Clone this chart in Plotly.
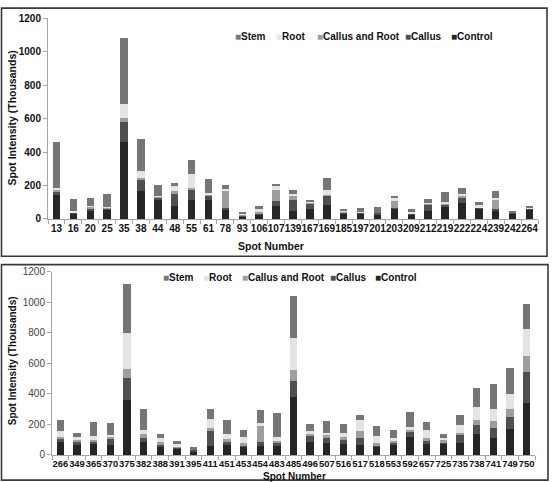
import plotly.graph_objects as go

# ---------------- data ----------------
top_spots = ["13", "16", "20", "25", "35", "38", "44", "48", "55", "61", "78", "93", "106", "107",
             "139", "167", "169", "185", "197", "201", "203", "209", "212", "219", "222", "224",
             "239", "242", "264"]
control_top = [145, 28, 50, 52, 458, 170, 116, 76, 116, 112, 57, 14, 24, 80, 45, 62, 86, 28, 32, 26,
               58, 22, 45, 72, 95, 58, 45, 30, 55]
callus_top = [16, 6, 12, 8, 120, 60, 10, 76, 55, 24, 8, 6, 9, 28, 68, 28, 52, 8, 3, 8,
              6, 6, 40, 12, 32, 6, 14, 4, 6]
callus_root_top = [12, 4, 8, 4, 25, 12, 6, 16, 14, 8, 100, 5, 8, 63, 22, 6, 8, 6, 3, 2,
                   46, 4, 6, 8, 10, 4, 54, 2, 2]
root_top = [15, 8, 10, 6, 82, 42, 8, 30, 84, 12, 12, 5, 18, 24, 15, 8, 30, 6, 2, 2,
            18, 12, 6, 12, 10, 14, 10, 2, 2]
stem_top = [275, 76, 46, 78, 395, 192, 62, 16, 83, 82, 28, 8, 21, 12, 25, 12, 70, 9, 25, 32,
            8, 16, 25, 60, 40, 20, 45, 12, 10]

bot_spots = ["266", "349", "365", "370", "375", "382", "388", "391", "395", "411", "451", "453",
             "454", "483", "485", "496", "507", "516", "517", "518", "553", "592", "657", "725",
             "735", "738", "741", "749", "750"]
control_bot = [88, 68, 72, 68, 357, 88, 50, 45, 28, 62, 68, 60, 58, 62, 382, 82, 80, 75, 68, 50,
               68, 120, 72, 72, 78, 140, 108, 168, 342]
callus_bot = [20, 24, 18, 34, 148, 24, 25, 10, 8, 92, 18, 8, 30, 14, 102, 50, 32, 28, 44, 18,
              14, 28, 20, 16, 50, 54, 70, 80, 204]
callus_root_bot = [10, 8, 10, 16, 56, 28, 8, 5, 2, 22, 20, 8, 104, 18, 69, 10, 18, 12, 48, 12,
                   10, 16, 18, 8, 18, 36, 44, 54, 101]
root_bot = [40, 20, 26, 14, 236, 24, 25, 12, 2, 62, 34, 42, 16, 22, 212, 12, 16, 28, 72, 46,
            22, 22, 52, 18, 48, 82, 80, 96, 180]
stem_bot = [68, 22, 88, 76, 320, 138, 32, 22, 10, 62, 90, 43, 86, 156, 274, 50, 74, 60, 32, 66,
            48, 96, 54, 26, 68, 125, 160, 168, 163]

series_names = ["Control", "Callus", "Callus and Root", "Root", "Stem"]
legend_order = ["Stem", "Root", "Callus and Root", "Callus", "Control"]
y_title = "Spot Intensity (Thousands)"
x_title = "Spot Number"

# ---------------- style ----------------
colors = {"Control": "#262626", "Callus": "#4f4f4f", "Callus and Root": "#9e9e9e",
          "Root": "#e4e4e4", "Stem": "#767676"}
FONT = "Arial, Liberation Sans, sans-serif"
W, H = 553, 482
ML, MR, MT, MB = 48, 15, 12, 27
PW, PH = W - ML - MR, H - MT - MB


def px_x(p):
    return (p - ML) / PW


def px_y(p):
    return (H - MB - p) / PH


fig = go.Figure()
top_vals = [control_top, callus_top, callus_root_top, root_top, stem_top]
bot_vals = [control_bot, callus_bot, callus_root_bot, root_bot, stem_bot]
for name, vals in zip(series_names, top_vals):
    fig.add_bar(x=top_spots, y=vals, name=name, marker_color=colors[name],
                marker_line_width=0, xaxis="x", yaxis="y", showlegend=False)
for name, vals in zip(series_names, bot_vals):
    fig.add_bar(x=bot_spots, y=vals, name=name, marker_color=colors[name],
                marker_line_width=0, xaxis="x2", yaxis="y2", showlegend=False)

axis_col = "#a6a6a6"
xcommon = dict(type="category", tickson="boundaries", ticks="outside", ticklen=4,
               tickcolor=axis_col, showline=True, linecolor=axis_col, linewidth=1,
               tickangle=0, showgrid=False, tick0=0, dtick=1)
ycommon = dict(range=[0, 1200], dtick=200, ticks="outside", ticklen=4, tickcolor=axis_col,
               showline=True, linecolor=axis_col, linewidth=1, showgrid=False, zeroline=False)

fig.update_layout(
    width=W, height=H, barmode="stack", bargap=0.56,
    margin=dict(l=ML, r=MR, t=MT, b=MB),
    paper_bgcolor="white", plot_bgcolor="white",
    font=dict(family=FONT),
    xaxis=dict(domain=[0, 1], anchor="y",
               tickfont=dict(family=FONT, size=10, color="#111111", weight="bold"), **xcommon),
    yaxis=dict(domain=[px_y(215.7), px_y(12.3)], anchor="x",
               tickfont=dict(family=FONT, size=10, color="#111111", weight="bold"), **ycommon),
    xaxis2=dict(domain=[px_x(52), px_x(535)], anchor="y2",
                tickfont=dict(family=FONT, size=9.4, color="#111111", weight="bold"), **xcommon),
    yaxis2=dict(domain=[px_y(455), px_y(269)], anchor="x2",
                tickfont=dict(family=FONT, size=10, color="#444444"), **ycommon),
)

# panel borders
for (x0, y0, x1, y1) in [(1.5, 2, 547, 253.5), (1.5, 262, 548, 480.5)]:
    fig.add_shape(type="rect", xref="paper", yref="paper",
                  x0=px_x(x0), x1=px_x(x1), y0=px_y(y1), y1=px_y(y0),
                  line=dict(color="#3a3a3a", width=1.6), fillcolor="rgba(0,0,0,0)")

bold = dict(family=FONT, color="#111111", weight="bold")
# axis titles
fig.add_annotation(text=y_title, xref="paper", yref="paper", x=px_x(12), y=px_y(114),
                   xanchor="center", yanchor="middle",
                   textangle=-90, showarrow=False, font=dict(size=10.5, **bold))
fig.add_annotation(text=y_title, xref="paper", yref="paper", x=px_x(12), y=px_y(360),
                   xanchor="center", yanchor="middle",
                   textangle=-90, showarrow=False, font=dict(size=10, **bold))
fig.add_annotation(text=x_title, xref="paper", yref="paper", x=px_x(271), y=px_y(243.5),
                   xanchor="center", yanchor="middle",
                   showarrow=False, font=dict(size=10.5, **bold))
fig.add_annotation(text=x_title, xref="paper", yref="paper", x=px_x(294), y=px_y(476.5),
                   xanchor="center", yanchor="middle",
                   showarrow=False, font=dict(size=10, **bold))

# legends (marker centre x positions, per panel)
legend_top_x = [236, 277, 318, 406, 452]
legend_bot_x = [164, 204, 243.5, 331, 376]
for xs, yc in [(legend_top_x, 31), (legend_bot_x, 275)]:
    for name, xm in zip(legend_order, xs):
        fig.add_annotation(
            text=f"<span style='color:{colors[name]}'>■</span>{name}",
            xref="paper", yref="paper", x=px_x(xm - 3.5), y=px_y(yc),
            xanchor="left", yanchor="middle", showarrow=False,
            font=dict(size=10, **bold))

fig.write_html("out.html")
